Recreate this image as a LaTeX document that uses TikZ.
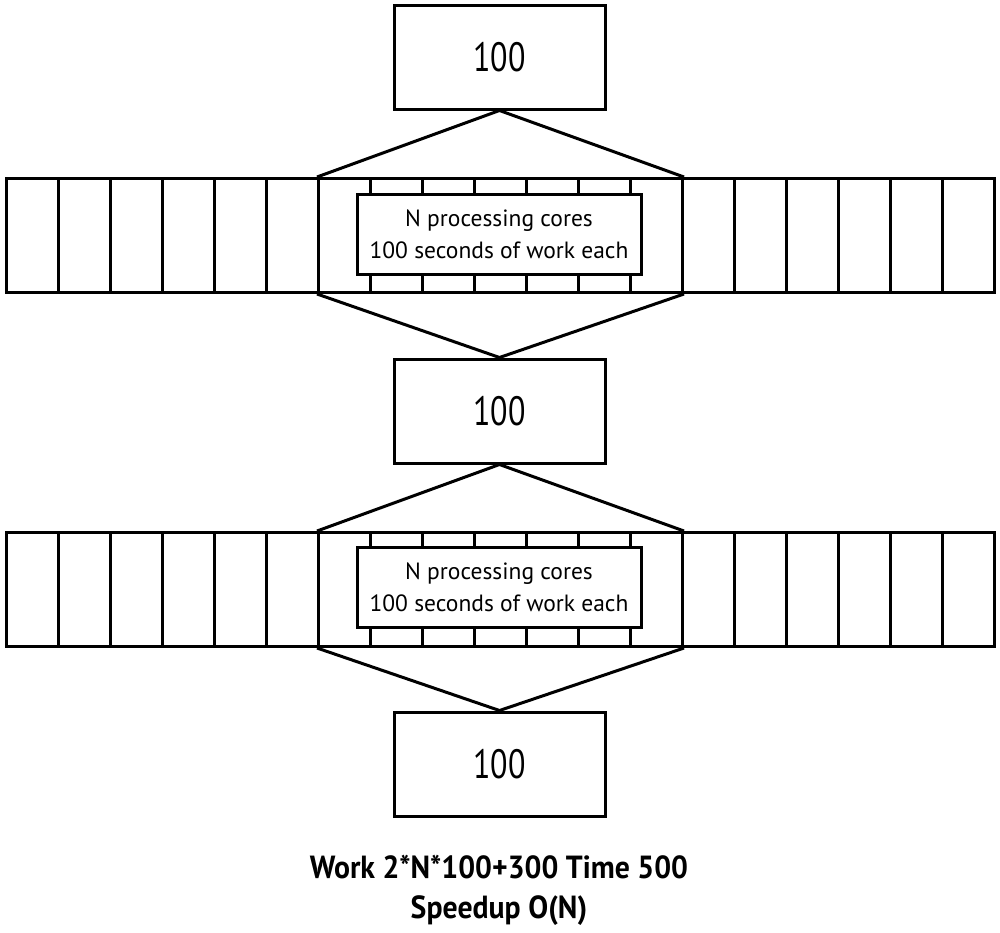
\documentclass[tikz,border=0pt]{standalone}
\usepackage{fontspec}
\setmainfont{PT Sans}
\newfontfamily\numfont{PT Sans}[FakeStretch=0.78]
\newfontfamily\sumfont{PT Sans Bold}[FakeStretch=0.93]
\begin{document}
\begin{tikzpicture}[x=1pt,y=-1pt, line width=3pt,
  cell/.style={draw, minimum width=52pt, minimum height=114pt, inner sep=0pt, anchor=north west},
  numbox/.style={draw, minimum width=211pt, minimum height=104pt, inner sep=0pt, font=\numfont\fontsize{41}{41}\selectfont},
  lbl/.style={draw, fill=white, minimum width=284pt, minimum height=80pt, inner sep=0pt, align=center, font=\fontsize{23.5}{32}\selectfont},
  link/.style={draw, line join=round}]
\useasboundingbox (0,0) rectangle (1000,932);
% rows of cells
\foreach \k in {0,...,18} {
  \node[cell] (ra\k) at ({5+52*\k},177) {};
  \node[cell] (rb\k) at ({5+52*\k},531) {};
}
% number boxes
\node[numbox] (t1) at (499.5,57) {100};
\node[numbox] (m1) at (499.5,411) {100};
\node[numbox] (b1) at (499.5,764) {100};
% connectors
\path[link] (ra6.north west) -- (t1.south) -- (ra12.north east);
\path[link] (ra6.south west) -- (m1.north) -- (ra12.south east);
\path[link] (rb6.north west) -- (m1.south) -- (rb12.north east);
\path[link] (rb6.south west) -- (b1.north) -- (rb12.south east);
% labels
\node[lbl] (la) at (499,234) {N processing cores\\100 seconds of work each};
\node[lbl] (lb) at (499,587) {N processing cores\\100 seconds of work each};
% bottom text
\node[font=\sumfont\fontsize{32}{40}\selectfont, align=center, inner sep=0pt] (sum) at (499,890) {Work 2*N*100+300 Time 500\\Speedup O(N)};
\end{tikzpicture}
\end{document}
